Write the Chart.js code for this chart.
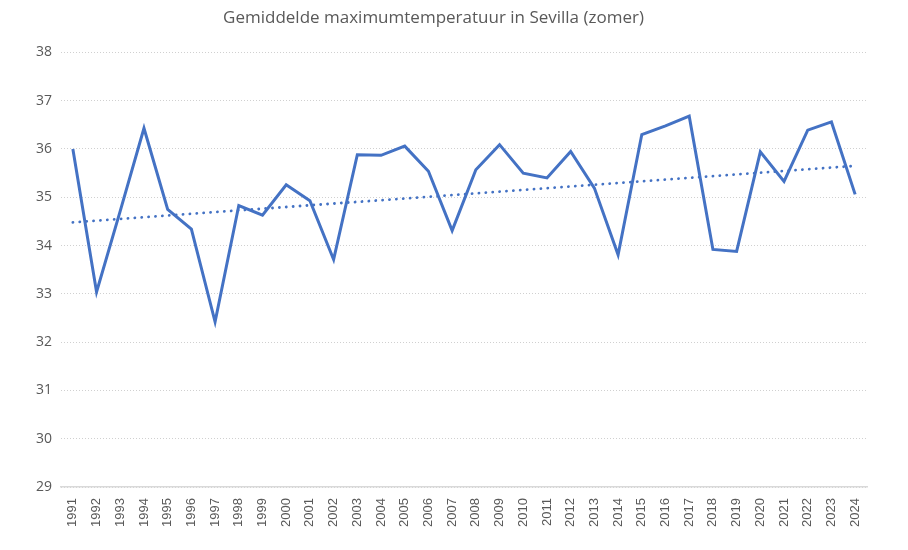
<!DOCTYPE html>
<html>
<head>
<meta charset="utf-8">
<script src="https://cdn.jsdelivr.net/npm/chart.js@4"></script>
<style>
html,body{margin:0;padding:0;background:#fff;}
#wrap{width:908px;height:550px;}
</style>
</head>
<body>
<div id="wrap"><canvas id="c" width="908" height="550"></canvas></div>
<script>
const years = ["1991","1992","1993","1994","1995","1996","1997","1998","1999","2000","2001","2002","2003","2004","2005","2006","2007","2008","2009","2010","2011","2012","2013","2014","2015","2016","2017","2018","2019","2020","2021","2022","2023","2024"];
const tmax = [36.00,33.04,34.72,36.43,34.75,34.34,32.42,34.83,34.63,35.26,34.93,33.71,35.88,35.87,36.06,35.54,34.31,35.57,36.09,35.50,35.40,35.95,35.19,33.81,36.30,36.48,36.68,33.92,33.88,35.94,35.33,36.39,36.56,35.06];
const trendStart = 34.48;
const trendEnd = 35.65;
const titleText = "Gemiddelde maximumtemperatuur in Sevilla (zomer)";

const trend = years.map((y,i)=> i===0 ? trendStart : (i===years.length-1 ? trendEnd : null));

new Chart(document.getElementById('c'), {
  type: 'line',
  data: {
    labels: years,
    datasets: [
      {
        data: tmax,
        borderColor: '#4472C4',
        borderWidth: 3,
        pointRadius: 0,
        tension: 0,
        fill: false,
        borderJoinStyle: 'miter'
      },
      {
        data: trend,
        borderColor: '#4472C4',
        borderWidth: 2.8,
        borderDash: [0.1, 6.8],
        borderCapStyle: 'round',
        pointRadius: 0,
        spanGaps: true,
        fill: false
      }
    ]
  },
  options: {
    responsive: false,
    animation: false,
    devicePixelRatio: 1,
    layout: { padding: { top: 0, right: 41, bottom: 12, left: 0 } },
    plugins: {
      legend: { display: false },
      tooltip: { enabled: false },
      title: {
        display: true,
        text: titleText,
        color: '#595959',
        font: { family: 'Open Sans', size: 17, weight: 'normal' },
        padding: { top: 8, bottom: 24 }
      }
    },
    scales: {
      x: {
        offset: true,
        grid: { display: false, drawTicks: false },
        border: { display: true, color: '#d9d9d9', width: 1.5 },
        ticks: {
          color: '#595959',
          font: { family: 'Liberation Sans', size: 13 },
          maxRotation: 90,
          minRotation: 90,
          autoSkip: false,
          padding: 11
        }
      },
      y: {
        min: 29,
        max: 38,
        afterFit: (s) => { s.width = 61; },
        grid: {
          color: '#d0d0d0',
          lineWidth: 1,
          drawTicks: false
        },
        border: { display: false, dash: [1, 2] },
        ticks: {
          stepSize: 1,
          color: '#595959',
          font: { family: 'Open Sans', size: 14 },
          padding: 9
        }
      }
    }
  }
});
</script>
</body>
</html>
